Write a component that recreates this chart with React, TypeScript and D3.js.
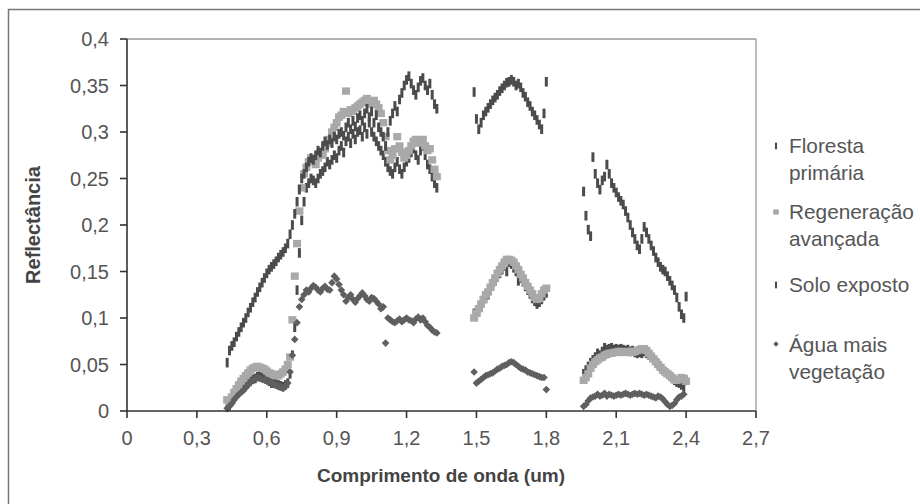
import React from 'react';
import * as d3 from 'd3';

// wavelength grids (um) of the three measured windows, 10 nm bands
const bandsVisNir = d3.range(43, 134).map((i) => i / 100); // 0.43 - 1.33
const bandsSwir1 = d3.range(149, 181).map((i) => i / 100); // 1.49 - 1.80
const bandsSwir2 = d3.range(196, 241).map((i) => i / 100); // 1.96 - 2.40

// Floresta primária
const florestaVisNir = [
  0.004, 0.006, 0.010, 0.014, 0.018, 0.020, 0.024,
  0.026, 0.028, 0.030, 0.032, 0.034, 0.035, 0.037, 0.038, 0.037, 0.036,
  0.034, 0.032, 0.030, 0.030, 0.029, 0.028, 0.027, 0.026, 0.028, 0.030,
  0.040, 0.060, 0.090, 0.130, 0.170, 0.205, 0.225, 0.240, 0.245, 0.250,
  0.248, 0.245, 0.250, 0.255, 0.258, 0.262, 0.268, 0.265, 0.270, 0.275,
  0.272, 0.280, 0.285, 0.278, 0.290, 0.295, 0.288, 0.298, 0.292, 0.300,
  0.302, 0.295, 0.305, 0.298, 0.310, 0.300, 0.295, 0.290, 0.285, 0.280,
  0.275, 0.268, 0.262, 0.258, 0.255, 0.262, 0.268, 0.260, 0.255, 0.262,
  0.268, 0.272, 0.278, 0.282, 0.275, 0.270, 0.280, 0.285, 0.275, 0.265,
  0.260, 0.252, 0.245, 0.240,
];
const florestaSwir1 = [
  0.105,
  0.102, 0.107, 0.112, 0.117, 0.121, 0.125, 0.130, 0.135, 0.140, 0.144,
  0.148, 0.152, 0.156, 0.150, 0.160, 0.158, 0.154, 0.150, 0.140, 0.143,
  0.139, 0.134, 0.130, 0.126, 0.121, 0.118, 0.115, 0.117, 0.120, 0.124,
  0.127,
];
const florestaSwir2 = [
  0.040, 0.044, 0.048, 0.052,
  0.055, 0.058, 0.062, 0.060, 0.064, 0.068, 0.066, 0.067, 0.068, 0.066,
  0.067, 0.066, 0.067, 0.066, 0.065, 0.066, 0.064, 0.065, 0.063, 0.062,
  0.063, 0.062, 0.064, 0.062, 0.060, 0.058, 0.055, 0.053, 0.050, 0.048,
  0.045, 0.042, 0.040, 0.038, 0.035, 0.033, 0.031, 0.030, 0.028, 0.025,
  0.033,
];

// Regeneração avançada
const regeneracaoVisNir = [
  0.012, 0.010, 0.015, 0.020, 0.024, 0.028, 0.032,
  0.035, 0.038, 0.041, 0.044, 0.046, 0.047, 0.048, 0.047, 0.046, 0.045,
  0.043, 0.041, 0.040, 0.039, 0.038, 0.038, 0.040, 0.042, 0.045, 0.050,
  0.058, 0.098, 0.145, 0.180, 0.215, 0.240, 0.255, 0.262, 0.268, 0.272,
  0.270, 0.265, 0.272, 0.278, 0.275, 0.282, 0.288, 0.292, 0.300, 0.305,
  0.310, 0.316, 0.318, 0.322, 0.344, 0.320, 0.324, 0.322, 0.326, 0.328,
  0.330, 0.332, 0.334, 0.336, 0.332, 0.330, 0.334, 0.330, 0.326, 0.320,
  0.310, 0.295, 0.280, 0.270, 0.275, 0.282, 0.295, 0.285, 0.278, 0.272,
  0.275, 0.280, 0.285, 0.290, 0.292, 0.288, 0.290, 0.292, 0.285, 0.280,
  0.282, 0.270, 0.260, 0.252,
];
const regeneracaoSwir1 = [
  0.100,
  0.105, 0.110, 0.115, 0.120, 0.125, 0.128, 0.133, 0.138, 0.143, 0.148,
  0.152, 0.156, 0.160, 0.163, 0.163, 0.162, 0.160, 0.156, 0.152, 0.147,
  0.143, 0.138, 0.134, 0.130, 0.126, 0.122, 0.120, 0.121, 0.126, 0.130,
  0.132,
];
const regeneracaoSwir2 = [
  0.033, 0.036, 0.040, 0.046,
  0.050, 0.053, 0.055, 0.057, 0.058, 0.060, 0.061, 0.062, 0.062, 0.063,
  0.063, 0.064, 0.064, 0.063, 0.063, 0.064, 0.064, 0.063, 0.064, 0.065,
  0.066, 0.067, 0.067, 0.065, 0.062, 0.059, 0.056, 0.053, 0.050, 0.047,
  0.044, 0.042, 0.040, 0.038, 0.036, 0.034, 0.033, 0.034, 0.036, 0.035,
  0.032,
];

// Solo exposto
const soloVisNir = [
  0.052, 0.065, 0.070, 0.074, 0.080, 0.085, 0.090,
  0.095, 0.100, 0.106, 0.111, 0.117, 0.122, 0.128, 0.133, 0.138, 0.143,
  0.148, 0.152, 0.155, 0.158, 0.161, 0.165, 0.168, 0.171, 0.175, 0.180,
  0.190, 0.200, 0.212, 0.225, 0.238, 0.250, 0.255, 0.262, 0.268, 0.272,
  0.270, 0.275, 0.280, 0.278, 0.285, 0.290, 0.286, 0.292, 0.288, 0.295,
  0.292, 0.298, 0.300, 0.296, 0.305, 0.310, 0.303, 0.312, 0.306, 0.315,
  0.318, 0.312, 0.320, 0.325, 0.316, 0.322, 0.310, 0.318, 0.305, 0.300,
  0.295, 0.285, 0.300, 0.312, 0.320, 0.328, 0.322, 0.335, 0.342, 0.350,
  0.356, 0.360, 0.352, 0.345, 0.340, 0.348, 0.355, 0.358, 0.350, 0.345,
  0.352, 0.340, 0.330, 0.325,
];
const soloSwir1 = [
  0.343,
  0.314, 0.303, 0.310, 0.318, 0.322, 0.326, 0.330, 0.334, 0.337, 0.340,
  0.344, 0.347, 0.350, 0.353, 0.354, 0.356, 0.354, 0.350, 0.352, 0.348,
  0.342, 0.338, 0.332, 0.328, 0.322, 0.318, 0.313, 0.308, 0.303, 0.320,
  0.354,
];
const soloSwir2 = [
  0.236, 0.210, 0.195, 0.188,
  0.273, 0.255, 0.245, 0.238, 0.248, 0.252, 0.265, 0.255, 0.245, 0.240,
  0.235, 0.230, 0.226, 0.222, 0.215, 0.208, 0.200, 0.192, 0.185, 0.178,
  0.174, 0.185, 0.198, 0.192, 0.185, 0.178, 0.172, 0.165, 0.160, 0.155,
  0.152, 0.150, 0.145, 0.140, 0.135, 0.130, 0.122, 0.112, 0.104, 0.100,
  0.123,
];

// Água mais vegetação
const aguaVisNir = [
  0.003, 0.005, 0.008, 0.012, 0.015, 0.018, 0.020,
  0.022, 0.025, 0.028, 0.031, 0.033, 0.035, 0.036, 0.035, 0.034, 0.033,
  0.032, 0.031, 0.030, 0.029, 0.028, 0.027, 0.026, 0.025, 0.026, 0.030,
  0.042, 0.060, 0.077, 0.095, 0.112, 0.120, 0.125, 0.130, 0.128, 0.132,
  0.135, 0.133, 0.130, 0.128, 0.132, 0.134, 0.131, 0.130, 0.138, 0.145,
  0.142, 0.136, 0.130, 0.125, 0.118, 0.122, 0.125, 0.120, 0.117, 0.121,
  0.124, 0.127, 0.124, 0.120, 0.118, 0.122, 0.121, 0.118, 0.115, 0.110,
  0.112, 0.073, 0.100, 0.098, 0.096, 0.095, 0.097, 0.099, 0.096, 0.098,
  0.100, 0.098, 0.097, 0.095, 0.099, 0.101, 0.098, 0.100, 0.096, 0.092,
  0.090, 0.087, 0.085, 0.084,
];
const aguaSwir1 = [
  0.042,
  0.030, 0.032, 0.034, 0.036, 0.038, 0.039, 0.040, 0.041, 0.043, 0.045,
  0.046, 0.048, 0.049, 0.050, 0.052, 0.053, 0.052, 0.050, 0.048, 0.046,
  0.045, 0.044, 0.042, 0.041, 0.040, 0.039, 0.038, 0.037, 0.036, 0.036,
  0.023,
];
const aguaSwir2 = [
  0.005, 0.007, 0.011, 0.014,
  0.015, 0.016, 0.018, 0.016, 0.017, 0.019, 0.016, 0.018, 0.017, 0.016,
  0.017, 0.018, 0.017, 0.018, 0.019, 0.018, 0.017, 0.018, 0.019, 0.018,
  0.019, 0.018, 0.017, 0.018, 0.017, 0.016, 0.015, 0.014, 0.016, 0.015,
  0.013, 0.010, 0.007, 0.005, 0.006, 0.008, 0.012, 0.015, 0.016, 0.018,
  null,
];

const xTicks = [0, 0.3, 0.6, 0.9, 1.2, 1.5, 1.8, 2.1, 2.4, 2.7];
const yTicks = [0, 0.05, 0.1, 0.15, 0.2, 0.25, 0.3, 0.35, 0.4];

const wavelengths = [...bandsVisNir, ...bandsSwir1, ...bandsSwir2];

type Marker = 'dash' | 'square' | 'diamond';
const series: { name: string[]; marker: Marker; values: (number | null)[] }[] = [
  { name: ['Floresta', 'primária'], marker: 'dash', values: [...florestaVisNir, ...florestaSwir1, ...florestaSwir2] },
  { name: ['Regeneração', 'avançada'], marker: 'square', values: [...regeneracaoVisNir, ...regeneracaoSwir1, ...regeneracaoSwir2] },
  { name: ['Solo exposto'], marker: 'dash', values: [...soloVisNir, ...soloSwir1, ...soloSwir2] },
  { name: ['Água mais', 'vegetação'], marker: 'diamond', values: [...aguaVisNir, ...aguaSwir1, ...aguaSwir2] },
];

const fmt = (v: number) => String(+v.toFixed(2)).replace('.', ',');

const DARK = '#4b4b4b';
const LIGHT = '#a9a9a9';
const DIAMOND = '#5f5f5f';

function drawMarker(m: Marker, cx: number, cy: number, key: string | number, scale = 1) {
  if (m === 'dash') {
    return <rect key={key} x={cx - 1.5 * scale} y={cy - 4.8 * scale} width={3 * scale} height={9.6 * scale} fill={DARK} />;
  }
  if (m === 'square') {
    return <rect key={key} x={cx - 4 * scale} y={cy - 3.7 * scale} width={8 * scale} height={7.4 * scale} fill={LIGHT} />;
  }
  const r = 3.8 * scale;
  return <path key={key} d={`M${cx},${cy - r}L${cx + r},${cy}L${cx},${cy + r}L${cx - r},${cy}Z`} fill={DIAMOND} />;
}

export default function App() {
  const left = 127, right = 756, top = 39, bottom = 411;
  const x = d3.scaleLinear().domain([0, 2.7]).range([left, right]);
  const y = d3.scaleLinear().domain([0, 0.4]).range([bottom, top]);

  const legendRows = [
    { baselines: [153, 180], markerY: 146 },
    { baselines: [219, 246], markerY: 212 },
    { baselines: [292], markerY: 285 },
    { baselines: [352, 379], markerY: 344 },
  ];

  return (
    <svg width={920} height={504} style={{ position: 'absolute', left: 0, top: 0, background: '#fff' }}
      fontFamily="'Liberation Sans', Arial, sans-serif">
      <rect x={8.5} y={9.5} width={1000} height={1000} fill="#fff" stroke="#777" strokeWidth={1.5} />

      {/* plot frame */}
      <line x1={left} x2={right} y1={top} y2={top} stroke="#999" strokeWidth={1.3} />
      <line x1={right} x2={right} y1={top} y2={bottom} stroke="#999" strokeWidth={1.3} />

      {/* points */}
      {series.map((s, si) => (
        <g key={si}>
          {s.values.map((v, i) => (v == null ? null : drawMarker(s.marker, x(wavelengths[i]), y(v), i)))}
        </g>
      ))}

      {/* axes */}
      <line x1={left} x2={left} y1={top} y2={bottom} stroke="#333" strokeWidth={1.6} />
      <line x1={left} x2={right} y1={bottom} y2={bottom} stroke="#333" strokeWidth={1.6} />
      {yTicks.map((t) => (
        <g key={t}>
          <line x1={left - 7} x2={left} y1={y(t)} y2={y(t)} stroke="#333" strokeWidth={1.6} />
          <text x={109} y={y(t) + 7} textAnchor="end" fontSize={20} fill="#555">{fmt(t)}</text>
        </g>
      ))}
      {xTicks.map((t) => (
        <g key={t}>
          <line x1={x(t)} x2={x(t)} y1={bottom} y2={bottom + 7} stroke="#333" strokeWidth={1.6} />
          <text x={x(t)} y={445} textAnchor="middle" fontSize={20} fill="#555">{fmt(t)}</text>
        </g>
      ))}

      <text x={441} y={482} textAnchor="middle" fontSize={19} fontWeight="bold" fill="#444">
        Comprimento de onda (um)
      </text>
      <text transform={`translate(40,${(top + bottom) / 2}) rotate(-90)`} textAnchor="middle" fontSize={20}
        fontWeight="bold" fill="#444">
        Reflectância
      </text>

      {/* legend */}
      {series.map((s, si) => (
        <g key={si}>
          {drawMarker(s.marker, 776, legendRows[si].markerY, 'm', 0.7)}
          {s.name.map((line, li) => (
            <text key={li} x={789} y={legendRows[si].baselines[li]} fontSize={20.8} fill="#555">{line}</text>
          ))}
        </g>
      ))}
    </svg>
  );
}
